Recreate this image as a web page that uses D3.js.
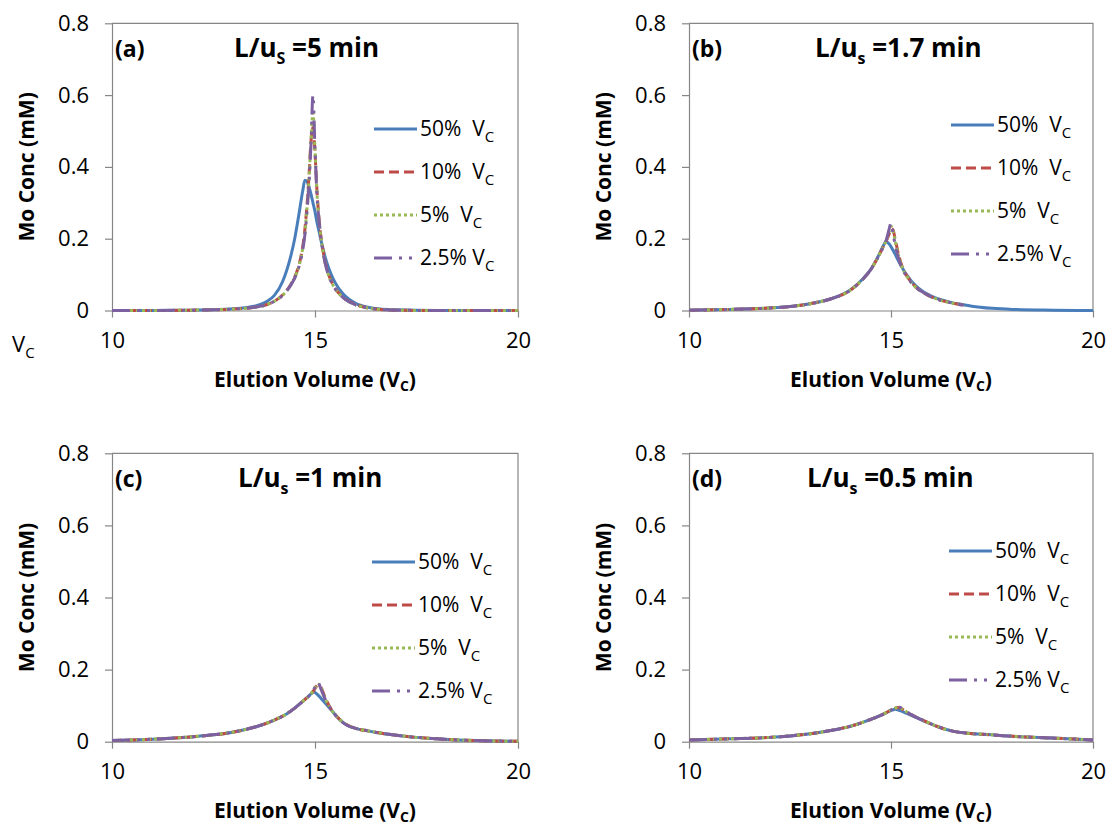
<!DOCTYPE html>
<html>
<head>
<meta charset="utf-8">
<script src="https://cdn.jsdelivr.net/npm/d3@7"></script>
<style>
  html, body { margin: 0; padding: 0; background: #fff; }
  svg { display: block; font-family: "Open Sans", sans-serif; }
</style>
</head>
<body>
<svg id="chart" width="1110" height="826"></svg>
<script>
// ---- Data ---------------------------------------------------------------
// Legend labels (followed by a subscript "C") and series styling
const seriesLabels = ["50%  V", "10%  V", "5%  V", "2.5% V"];
const xTicks = [10, 15, 20];
const yTicks = [0, 0.2, 0.4, 0.6, 0.8];
const yTickLabels = ["0", "0.2", "0.4", "0.6", "0.8"];
const panelTags = ["(a)", "(b)", "(c)", "(d)"];
const residenceTimes = ["5", "1.7", "1", "0.5"];
const residenceSubs = ["S", "s", "s", "s"];

// (a) L/us = 5 min
const volA = [10, 11, 12, 12.5, 13, 13.5, 13.8, 14.0, 14.2, 14.4, 14.5, 14.6, 14.7, 14.75, 14.8, 14.85, 14.9, 14.95, 15.0, 15.05, 15.1, 15.2, 15.3, 15.4, 15.5, 15.7, 16.0, 16.3, 16.6, 17, 18, 19, 20];
const concA50 = [0, 0, 0.001, 0.002, 0.005, 0.012, 0.024, 0.042, 0.08, 0.15, 0.2, 0.265, 0.335, 0.363, 0.36, 0.345, 0.325, 0.3, 0.275, 0.245, 0.22, 0.17, 0.13, 0.1, 0.077, 0.045, 0.02, 0.009, 0.004, 0.002, 0, 0, 0];
const concA10 = [0, 0, 0.001, 0.002, 0.004, 0.009, 0.016, 0.026, 0.043, 0.072, 0.093, 0.125, 0.18, 0.225, 0.29, 0.37, 0.47, 0.51, 0.44, 0.33, 0.255, 0.165, 0.112, 0.082, 0.061, 0.036, 0.017, 0.007, 0.003, 0.001, 0, 0, 0];
const concA5 = [0, 0, 0.001, 0.002, 0.004, 0.009, 0.016, 0.026, 0.042, 0.071, 0.092, 0.122, 0.175, 0.215, 0.28, 0.36, 0.47, 0.55, 0.45, 0.325, 0.252, 0.162, 0.11, 0.08, 0.06, 0.035, 0.016, 0.007, 0.003, 0.001, 0, 0, 0];
const concA25 = [0, 0, 0.001, 0.002, 0.004, 0.009, 0.016, 0.026, 0.042, 0.07, 0.09, 0.12, 0.17, 0.21, 0.27, 0.35, 0.46, 0.6, 0.45, 0.32, 0.25, 0.16, 0.11, 0.08, 0.06, 0.035, 0.016, 0.007, 0.003, 0.001, 0, 0, 0];

// (b) L/us = 1.7 min
const volB = [10, 11, 12, 12.5, 13, 13.5, 14, 14.3, 14.5, 14.7, 14.8, 14.88, 14.95, 15.0, 15.05, 15.1, 15.2, 15.3, 15.4, 15.6, 15.8, 16, 16.5, 16.8, 17, 17.5, 18, 19, 20];
const concB50 = [0.001, 0.003, 0.007, 0.011, 0.019, 0.032, 0.058, 0.088, 0.115, 0.155, 0.178, 0.192, 0.186, 0.178, 0.168, 0.157, 0.135, 0.115, 0.097, 0.07, 0.052, 0.04, 0.022, 0.016, 0.012, 0.006, 0.003, 0.001, 0];
const concB10 = [0.001, 0.003, 0.007, 0.011, 0.019, 0.032, 0.057, 0.087, 0.114, 0.153, 0.176, 0.193, 0.212, 0.228, 0.225, 0.2, 0.15, 0.115, 0.095, 0.067, 0.05, 0.038, 0.021, 0.015, null, null, null, null, null];
const concB5 = [0.001, 0.003, 0.007, 0.011, 0.019, 0.032, 0.057, 0.087, 0.114, 0.153, 0.176, 0.194, 0.218, 0.235, 0.222, 0.195, 0.147, 0.113, 0.094, 0.066, 0.05, 0.038, 0.021, 0.015, null, null, null, null, null];
const concB25 = [0.001, 0.003, 0.007, 0.011, 0.019, 0.032, 0.057, 0.087, 0.114, 0.153, 0.175, 0.195, 0.225, 0.243, 0.215, 0.185, 0.14, 0.112, 0.093, 0.066, 0.05, 0.038, 0.021, 0.015, null, null, null, null, null];

// (c) L/us = 1 min
const volC = [10, 11, 12, 12.5, 13, 13.5, 14, 14.3, 14.5, 14.7, 14.85, 14.97, 15.07, 15.15, 15.25, 15.4, 15.6, 15.8, 16, 16.3, 16.6, 17, 17.5, 18, 18.5, 19, 20];
const concC50 = [0.003, 0.007, 0.014, 0.019, 0.027, 0.04, 0.06, 0.077, 0.093, 0.112, 0.127, 0.138, 0.13, 0.12, 0.107, 0.088, 0.062, 0.045, 0.037, 0.03, 0.024, 0.018, 0.012, 0.008, 0.005, 0.003, 0.001];
const concC10 = [0.003, 0.007, 0.014, 0.019, 0.027, 0.04, 0.06, 0.077, 0.093, 0.112, 0.127, 0.142, 0.157, 0.15, 0.122, 0.09, 0.063, 0.046, 0.037, 0.03, 0.024, 0.018, 0.012, 0.008, 0.005, 0.003, 0.001];
const concC5 = [0.003, 0.007, 0.014, 0.019, 0.027, 0.04, 0.06, 0.077, 0.093, 0.112, 0.127, 0.143, 0.16, 0.148, 0.12, 0.089, 0.063, 0.046, 0.037, 0.03, 0.024, 0.018, 0.012, 0.008, 0.005, 0.003, 0.001];
const concC25 = [0.003, 0.007, 0.014, 0.019, 0.027, 0.04, 0.06, 0.077, 0.093, 0.112, 0.127, 0.145, 0.165, 0.145, 0.118, 0.089, 0.062, 0.045, 0.037, 0.03, 0.024, 0.018, 0.012, 0.008, 0.005, 0.003, 0.001];

// (d) L/us = 0.5 min
const volD = [10, 11, 12, 12.5, 13, 13.5, 14, 14.5, 14.8, 15.0, 15.1, 15.18, 15.3, 15.5, 15.8, 16.2, 16.5, 16.85, 17.5, 18, 19, 20];
const concD50 = [0.005, 0.008, 0.012, 0.016, 0.022, 0.031, 0.043, 0.062, 0.076, 0.086, 0.09, 0.088, 0.083, 0.073, 0.058, 0.04, 0.03, 0.024, 0.019, 0.015, 0.01, 0.005];
const concD10 = [0.005, 0.008, 0.012, 0.016, 0.022, 0.031, 0.043, 0.062, 0.076, 0.088, 0.093, 0.095, 0.089, 0.075, 0.059, 0.04, 0.03, 0.024, 0.019, 0.015, 0.01, 0.005];
const concD5 = [0.005, 0.008, 0.012, 0.016, 0.022, 0.031, 0.043, 0.062, 0.076, 0.088, 0.093, 0.096, 0.089, 0.075, 0.059, 0.04, 0.03, 0.024, 0.019, 0.015, 0.01, 0.005];
const concD25 = [0.005, 0.008, 0.012, 0.016, 0.022, 0.031, 0.043, 0.062, 0.076, 0.088, 0.094, 0.097, 0.09, 0.075, 0.059, 0.04, 0.03, 0.024, 0.019, 0.015, 0.01, 0.005];

// ---- Styling / layout -----------------------------------------------------
const seriesColors = ["#4A7EBB", "#BE4B48", "#98B954", "#7D60A0"];
const seriesDash = [null, "10,5", "3,3", "18,7,3,7,3,7"];
const axisColor = "#868686";
const textColor = "#000";

const layout = [
  { l: 112, t: 23.3, r: 518, b: 310.5, titleX: 122, legX: 374, legY: 129 },
  { l: 689, t: 23.3, r: 1093, b: 310.5, titleX: 126, legX: 951, legY: 125 },
  { l: 112, t: 453.3, r: 518, b: 741.7, titleX: 126, legX: 372, legY: 562 },
  { l: 689, t: 453.3, r: 1093, b: 741.7, titleX: 118, legX: 949, legY: 551 }
];
const legendRowGap = 43;

const panelData = [
  { vol: volA, conc: [concA50, concA10, concA5, concA25] },
  { vol: volB, conc: [concB50, concB10, concB5, concB25] },
  { vol: volC, conc: [concC50, concC10, concC5, concC25] },
  { vol: volD, conc: [concD50, concD10, concD5, concD25] }
];

const svg = d3.select("#chart");

// helper: text with a lowered subscript part
function subText(sel, before, sub, after, subSize, shift) {
  sel.append("tspan").text(before);
  sel.append("tspan").attr("font-size", subSize).attr("dy", shift).text(sub);
  if (after !== null) sel.append("tspan").attr("dy", -shift).text(after);
}

panelData.forEach((pd, i) => {
  const L = layout[i];
  const g = svg.append("g");
  const x = d3.scaleLinear().domain([10, 20]).range([L.l, L.r]);
  const y = d3.scaleLinear().domain([0, 0.8]).range([L.b, L.t]);

  // plot-area frame (top and right)
  g.append("path")
    .attr("d", `M${L.l},${L.t}H${L.r}V${L.b}`)
    .attr("fill", "none").attr("stroke", axisColor).attr("stroke-width", 1.2);

  // axes
  const yAxis = d3.axisLeft(y).tickValues(yTicks)
    .tickFormat((d, k) => yTickLabels[k]).tickSize(7).tickSizeOuter(0).tickPadding(16);
  const xAxis = d3.axisBottom(x).tickValues(xTicks)
    .tickFormat(d3.format("d")).tickSize(7).tickSizeOuter(0).tickPadding(15);

  const ya = g.append("g").attr("transform", `translate(${L.l},0)`).call(yAxis);
  const xa = g.append("g").attr("transform", `translate(0,${L.b})`).call(xAxis);
  [ya, xa].forEach(a => {
    a.select(".domain").attr("stroke", axisColor).attr("stroke-width", 1.2);
    a.selectAll(".tick line").attr("stroke", axisColor).attr("stroke-width", 1.2);
    a.selectAll(".tick text").attr("fill", textColor)
      .attr("font-size", 22).attr("font-family", "Open Sans, sans-serif");
  });

  // series lines
  const line = d3.line()
    .defined(d => d[1] !== null)
    .x(d => x(d[0])).y(d => y(d[1]))
    .curve(d3.curveMonotoneX);
  pd.conc.forEach((vals, s) => {
    const pts = pd.vol.map((v, k) => [v, vals[k]]);
    const p = g.append("path").datum(pts)
      .attr("d", line)
      .attr("fill", "none")
      .attr("stroke", seriesColors[s])
      .attr("stroke-width", 3)
      .attr("stroke-linejoin", "round");
    if (seriesDash[s]) p.attr("stroke-dasharray", seriesDash[s]);
  });

  // panel tag and residence-time title
  g.append("text").attr("x", L.l + 3).attr("y", L.t + 34)
    .attr("font-size", 23).attr("font-weight", "bold").text(panelTags[i]);
  const tt = g.append("text").attr("x", L.l + L.titleX).attr("y", L.t + 34)
    .attr("font-size", 26).attr("font-weight", "bold");
  subText(tt, "L/u", residenceSubs[i], " =" + residenceTimes[i] + " min", 16, 7);

  // axis titles
  const xt = g.append("text").attr("x", (L.l + L.r) / 2).attr("y", L.b + 76)
    .attr("text-anchor", "middle").attr("font-size", 21).attr("font-weight", "bold");
  subText(xt, "Elution Volume (V", "C", ")", 14, 4);

  g.append("text")
    .attr("transform", `translate(${L.l - 78},${(L.t + L.b) / 2}) rotate(-90)`)
    .attr("text-anchor", "middle").attr("font-size", 21).attr("font-weight", "bold")
    .text("Mo Conc (mM)");

  // legend
  seriesLabels.forEach((lab, s) => {
    const ly = L.legY + s * legendRowGap;
    const ln = g.append("line")
      .attr("x1", L.legX).attr("x2", L.legX + 43)
      .attr("y1", ly).attr("y2", ly)
      .attr("stroke", seriesColors[s]).attr("stroke-width", 3);
    if (seriesDash[s]) ln.attr("stroke-dasharray", seriesDash[s]);
    const lt = g.append("text").attr("x", L.legX + 46).attr("y", ly + 7)
      .attr("font-size", 21).style("white-space", "pre");
    subText(lt, lab, "C", null, 15, 6);
  });
});

// stray axis-unit label at the left of panel (a)
const vc = svg.append("text").attr("x", 12).attr("y", 352).attr("font-size", 22);
subText(vc, "V", "C", null, 15, 6);
</script>
</body>
</html>
